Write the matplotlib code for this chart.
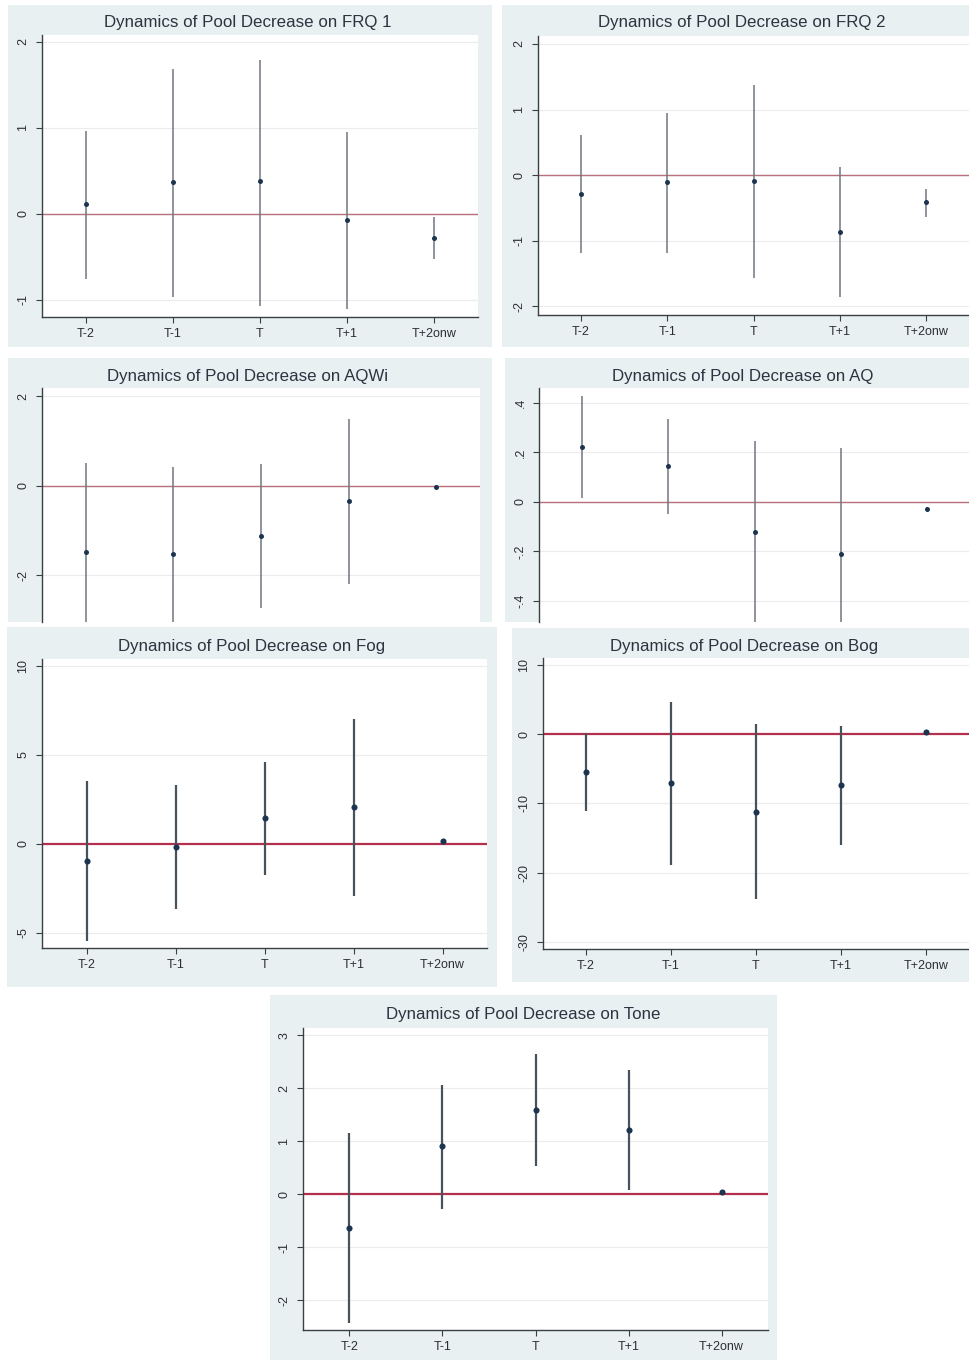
import matplotlib
matplotlib.use("Agg")
import matplotlib.pyplot as plt
from matplotlib.patches import Rectangle
import numpy as np

plt.rcParams['font.family'] = ['Liberation Sans', 'DejaVu Sans']

categories = ["T-2", "T-1", "T", "T+1", "T+2onw"]

# ---- data: point estimate, lower CI, upper CI ----
frq1_est = [0.11, 0.37, 0.38, -0.07, -0.28]
frq1_lo = [-0.76, -0.97, -1.07, -1.11, -0.53]
frq1_hi = [0.96, 1.68, 1.79, 0.95, -0.04]

frq2_est = [-0.28, -0.11, -0.09, -0.86, -0.41]
frq2_lo = [-1.19, -1.18, -1.56, -1.86, -0.64]
frq2_hi = [0.61, 0.94, 1.37, 0.13, -0.21]

aqwi_est = [-1.48, -1.52, -1.12, -0.34, -0.03]
aqwi_lo = [-3.48, -3.45, -2.74, -2.20, -0.07]
aqwi_hi = [0.52, 0.41, 0.49, 1.50, 0.01]

aq_est = [0.223, 0.146, -0.122, -0.209, -0.027]
aq_lo = [0.014, -0.047, -0.49, -0.637, -0.035]
aq_hi = [0.426, 0.335, 0.246, 0.219, -0.019]

fog_est = [-0.96, -0.17, 1.44, 2.04, 0.13]
fog_lo = [-5.50, -3.66, -1.74, -2.96, 0.05]
fog_hi = [3.51, 3.28, 4.58, 7.00, 0.21]

bog_est = [-5.43, -7.10, -11.20, -7.40, 0.24]
bog_lo = [-11.15, -18.85, -23.75, -15.96, 0.10]
bog_hi = [0.14, 4.57, 1.44, 1.10, 0.38]

tone_est = [-0.63, 0.91, 1.59, 1.22, 0.04]
tone_lo = [-2.42, -0.27, 0.53, 0.08, 0.02]
tone_hi = [1.15, 2.06, 2.65, 2.34, 0.06]

titles = ["Dynamics of Pool Decrease on FRQ 1", "Dynamics of Pool Decrease on FRQ 2",
          "Dynamics of Pool Decrease on AQWi", "Dynamics of Pool Decrease on AQ",
          "Dynamics of Pool Decrease on Fog", "Dynamics of Pool Decrease on Bog",
          "Dynamics of Pool Decrease on Tone"]

frq1_ticks = [-1, 0, 1, 2]
frq2_ticks = [-2, -1, 0, 1, 2]
aqwi_ticks = [-2, 0, 2]
aq_ticks = [-0.4, -0.2, 0, 0.2, 0.4]
aq_ticklabels = ["-.4", "-.2", "0", ".2", ".4"]
fog_ticks = [-5, 0, 5, 10]
bog_ticks = [-30, -20, -10, 0, 10]
tone_ticks = [-2, -1, 0, 1, 2, 3]

W, H = 970, 1360
fig = plt.figure(figsize=(W / 100, H / 100), dpi=100)
fig.patch.set_facecolor("white")

BG = "#e9f0f2"


def box(l, t, r, b):
    fig.patches.append(Rectangle((l / W, 1 - b / H), (r - l) / W, (b - t) / H,
                                 transform=fig.transFigure, facecolor=BG,
                                 edgecolor="none", zorder=-5))


def axes_at(l, t, r, b):
    return fig.add_axes([l / W, 1 - b / H, (r - l) / W, (b - t) / H])


panels = [
    dict(box=(8, 5, 492, 347), plot=(42, 35, 478, 317), tpos=(248, 22),
         ylim=(-1.2, 2.08), est=frq1_est, lo=frq1_lo, hi=frq1_hi,
         ticks=frq1_ticks, tl=None, cut=False, heavy=False),
    dict(box=(502, 5, 975, 347), plot=(538, 36, 969, 315), tpos=(742, 23),
         ylim=(-2.13, 2.12), est=frq2_est, lo=frq2_lo, hi=frq2_hi,
         ticks=frq2_ticks, tl=None, cut=False, heavy=False),
    dict(box=(8, 358, 492, 622), plot=(42, 388, 480, 622), tpos=(248, 377),
         ylim=(-3.05, 2.19), est=aqwi_est, lo=aqwi_lo, hi=aqwi_hi,
         ticks=aqwi_ticks, tl=None, cut=True, heavy=False),
    dict(box=(505, 358, 975, 622), plot=(539, 388, 970, 622), tpos=(743, 377),
         ylim=(-0.485, 0.46), est=aq_est, lo=aq_lo, hi=aq_hi,
         ticks=aq_ticks, tl=aq_ticklabels, cut=True, heavy=False),
    dict(box=(7, 627, 497, 987), plot=(42, 659, 487, 948), tpos=(252, 647),
         ylim=(-5.87, 10.39), est=fog_est, lo=fog_lo, hi=fog_hi,
         ticks=fog_ticks, tl=None, cut=False, heavy=True),
    dict(box=(512, 628, 975, 982), plot=(543, 658, 969, 949), tpos=(744, 647),
         ylim=(-30.96, 10.96), est=bog_est, lo=bog_lo, hi=bog_hi,
         ticks=bog_ticks, tl=None, cut=False, heavy=True),
    dict(box=(270, 995, 777, 1365), plot=(303, 1028, 768, 1330), tpos=(523, 1015),
         ylim=(-2.56, 3.14), est=tone_est, lo=tone_lo, hi=tone_hi,
         ticks=tone_ticks, tl=None, cut=False, heavy=True),
]

x = np.arange(len(categories))

for p, title in zip(panels, titles):
    box(*p["box"])
    ax = axes_at(*p["plot"])
    ax.set_facecolor("white")
    heavy = p["heavy"]
    bar_col = "#46525c" if heavy else "#6f767d"
    ax.vlines(x, p["lo"], p["hi"], color=bar_col, lw=1.6 if heavy else 1.1, zorder=3)
    ax.plot(x, p["est"], "o", color="#1c3450", ms=4.4 if heavy else 3.6,
            zorder=4, markeredgewidth=0)
    ax.axhline(0, color="#b2304e" if heavy else "#b8707c",
               lw=1.6 if heavy else 1.0, zorder=2)
    ax.set_xlim(-0.5, 4.5)
    ax.set_ylim(*p["ylim"])
    ax.set_yticks(p["ticks"])
    if p["tl"] is not None:
        ax.set_yticklabels(p["tl"])
    else:
        ax.set_yticklabels([("%g" % t) for t in p["ticks"]])
    for lab in ax.get_yticklabels():
        lab.set_rotation(90)
        lab.set_va("center")
    ax.yaxis.grid(True, color="#ececec", lw=0.8)
    ax.set_axisbelow(True)
    for s in ["top", "right"]:
        ax.spines[s].set_visible(False)
    for s in ["left", "bottom"]:
        ax.spines[s].set_color("#3a3f44")
        ax.spines[s].set_linewidth(1.0)
    ax.tick_params(axis="y", length=4, width=0.8, color="#3a3f44",
                   labelsize=9, labelcolor="#2a2f34", pad=5)
    if p["cut"]:
        ax.spines["bottom"].set_visible(False)
        ax.set_xticks([])
    else:
        ax.set_xticks(x)
        ax.set_xticklabels(categories)
        ax.tick_params(axis="x", length=4, width=0.8, color="#3a3f44",
                       labelsize=9, labelcolor="#2a2f34", pad=4)
    fig.text(p["tpos"][0] / W, 1 - p["tpos"][1] / H, title, ha="center",
             va="center", fontsize=12.2, color="#2a3540")

fig.savefig("out.png", dpi=100)
